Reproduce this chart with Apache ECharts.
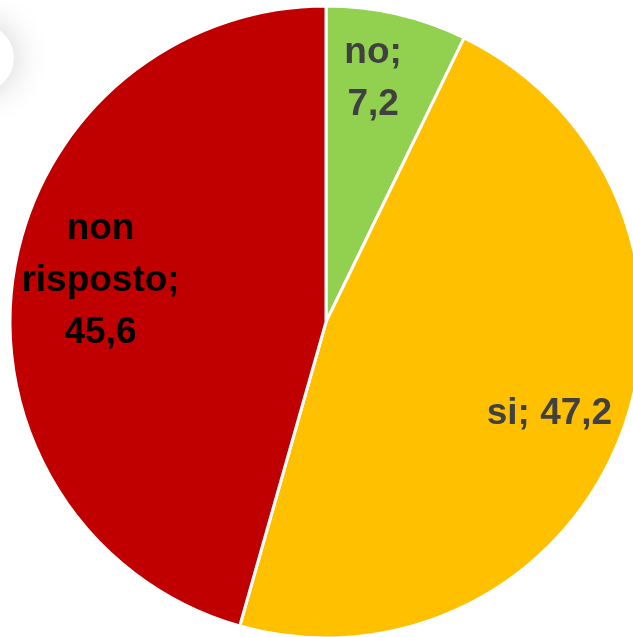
<!DOCTYPE html>
<html>
<head>
<meta charset="utf-8">
<script src="https://cdn.jsdelivr.net/npm/echarts@6/dist/echarts.min.js"></script>
<style>html,body{margin:0;padding:0;background:#fff;}#c{width:633px;height:637px;}</style>
</head>
<body>
<div id="c"></div>
<script>
const categories = ['no', 'si', 'non risposto'];
const values = [7.2, 47.2, 45.6];
const colors = ['#92D050', '#FFC000', '#C00000'];
const labelColors = ['#404040', '#404040', '#000000'];
const labelOffsets = [[11, -86], [73, 34], [-66, -19]];
const labelTexts = ['no;\n7,2', 'si; 47,2', 'non\nrisposto;\n45,6'];

const chart = echarts.init(document.getElementById('c'));
chart.setOption({
  animation: false,
  backgroundColor: '#ffffff',
  graphic: [{
    type: 'circle',
    shape: { cx: -20, cy: 58, r: 34 },
    style: { fill: '#ffffff', shadowBlur: 36, shadowColor: 'rgba(0,0,0,0.2)' },
    z: -1
  }],
  series: [{
    type: 'pie',
    center: [326, 322],
    radius: [0, 316],
    startAngle: 90,
    clockwise: true,
    avoidLabelOverlap: false,
    itemStyle: { borderColor: '#ffffff', borderWidth: 3 },
    label: {
      show: true,
      position: 'inside',
      fontFamily: 'Liberation Sans',
      fontWeight: 'bold',
      fontSize: 37,
      lineHeight: 52,
      align: 'center'
    },
    labelLine: { show: false },
    data: categories.map((c, i) => ({
      name: c,
      value: values[i],
      itemStyle: { color: colors[i] },
      label: { color: labelColors[i], offset: labelOffsets[i], formatter: labelTexts[i] }
    }))
  }]
});
</script>
</body>
</html>
